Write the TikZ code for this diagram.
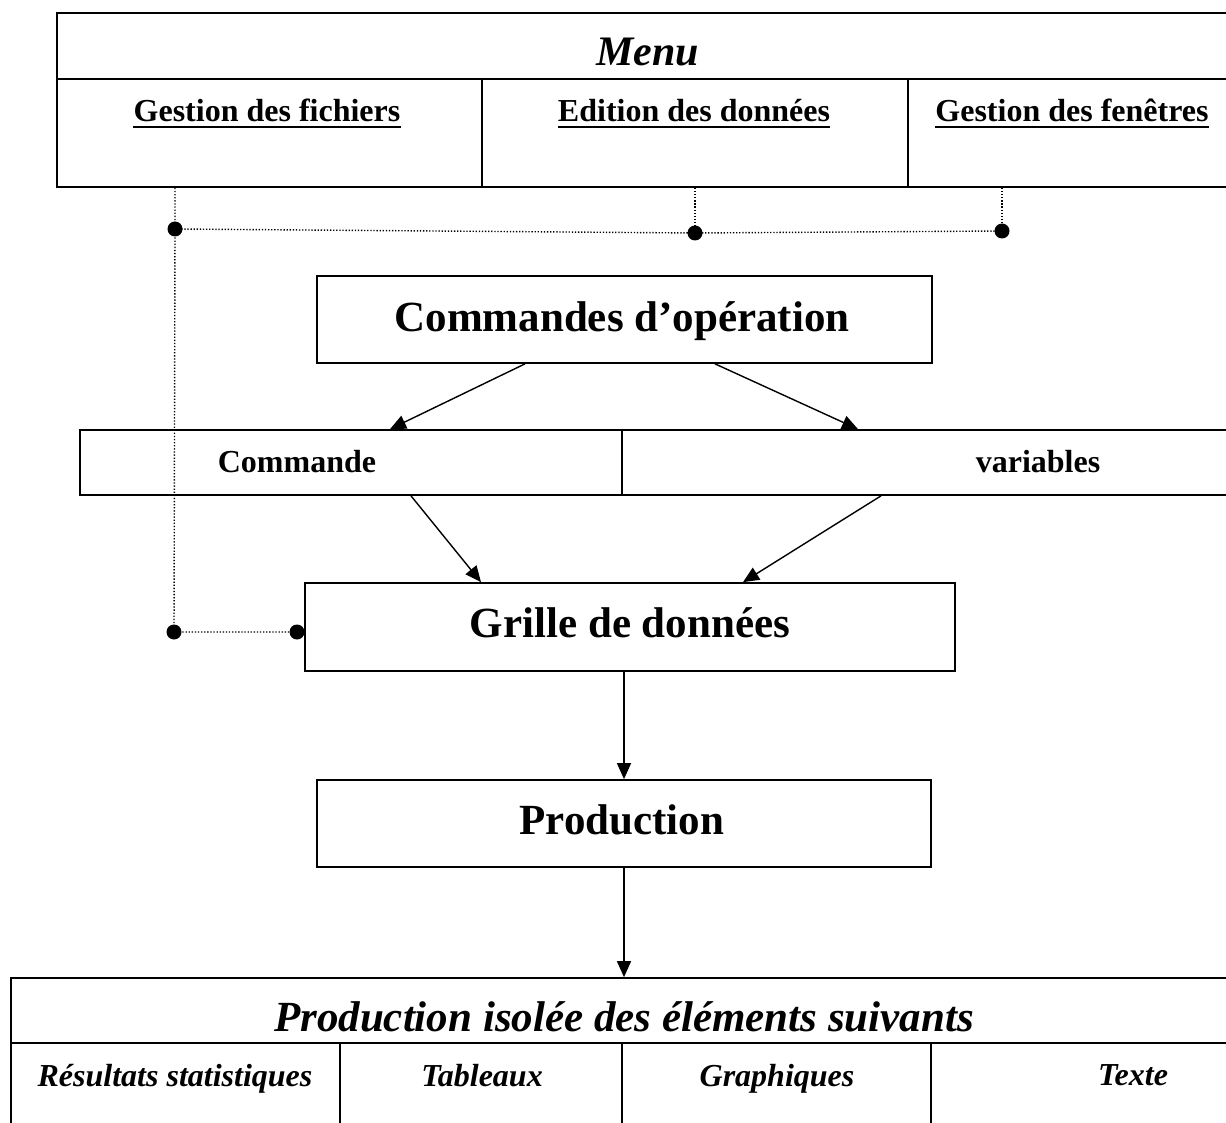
\documentclass[tikz,border=0pt]{standalone}
\usepackage{fontspec}
\setmainfont{Liberation Serif}
\usetikzlibrary{arrows.meta,fit}
\begin{document}
\begin{tikzpicture}[x=1pt,y=-1pt,
  box/.style={draw, line width=1.7pt, rectangle, inner sep=0pt, fit={#1}},
  txt/.style={inner sep=0pt, anchor=base},
  bigb/.style={txt, font=\bfseries\fontsize{43}{50}\selectfont},
  bigi/.style={txt, font=\bfseries\itshape\fontsize{43}{50}\selectfont},
  midb/.style={txt, font=\bfseries\fontsize{32}{38}\selectfont},
  midi/.style={txt, font=\bfseries\itshape\fontsize{32}{38}\selectfont},
  arr/.style={line width=1.4pt, -{Triangle[length=16pt,width=14pt]}},
  dotline/.style={line width=1.4pt, dash pattern=on 1.3pt off 1.8pt, black},
  blob/.style={circle, fill=black, inner sep=0pt, minimum size=15pt},
  uline/.style={line width=2.6pt}
]
\clip (0,0) rectangle (1226,1123);
% Menu block
\node[box={(57,13)(1300,79)}] (menu) {};
\node[box={(57,79)(482,187)}] (fich) {};
\node[box={(482,79)(908,187)}] (donn) {};
\node[box={(908,79)(1300,187)}] (fen) {};
\node[bigi, font=\bfseries\itshape\fontsize{42}{48}\selectfont] (menut) at (648,66) {Menu};
\node[midb] (ficht) at (267,122) {Gestion des fichiers};
\node[midb] (donnt) at (694,122) {Edition des données};
\node[midb] (fent) at (1072,122) {Gestion des fenêtres};
\foreach \t in {ficht,donnt,fent}
  \draw[uline] ([yshift=-5pt]\t.base west) -- ([yshift=-5pt]\t.base east);
% dots
\node[blob] (d1) at (175,229) {};
\node[blob] (d2) at (695,233) {};
\node[blob] (d3) at (1002,231) {};
\node[blob] (d4) at (174,632) {};
% main boxes
\node[box={(317,276)(932,363)}] (cmdop) {};
\node[bigb] at (622,331) {Commandes d’opération};
\node[box={(80,430)(622,495)}] (cmd) {};
\node[box={(622,430)(1300,495)}] (var) {};
\node[midb] at (297,472) {Commande};
\node[midb] at (1038,472) {variables};
\node[box={(305,583)(955,671)}] (grille) {};
\node[bigb] at (630,637) {Grille de données};
\node[blob] (d5) at (297,632) {};
\node[box={(317,780)(931,867)}] (prod) {};
\node[bigb] at (622,834) {Production};
\node[box={(11,978)(1300,1043)}] (iso) {};
\node[bigi] at (624,1031) {Production isolée des éléments suivants};
\node[box={(11,1043)(340,1200)}] (res) {};
\node[box={(340,1043)(622,1200)}] (tab) {};
\node[box={(622,1043)(931,1200)}] (gra) {};
\node[box={(931,1043)(1300,1200)}] (tex) {};
\node[midi] at (175,1086) {Résultats statistiques};
\node[midi] at (482,1086) {Tableaux};
\node[midi] at (777,1086) {Graphiques};
\node[midi] at (1133,1085) {Texte};
% dotted connectors
\draw[dotline] (d1 |- fich.south) -- (d1.center) -- (d4.center) -- (d5.center);
\draw[dotline] (d1.center) -- (d2.center) -- (d3.center);
\draw[dotline] (d2 |- donn.south) -- (d2.center);
\draw[dotline] (d3 |- fen.south) -- (d3.center);
% arrows
\draw[arr] ([xshift=-99.5pt]cmdop.south) -- ([xshift=39pt]cmd.north);
\draw[arr] ([xshift=90.5pt]cmdop.south) -- ([xshift=-103pt]var.north);
\draw[arr] ([xshift=60pt]cmd.south) -- ([xshift=-149pt]grille.north);
\draw[arr] ([xshift=-80pt]var.south) -- ([xshift=113pt]grille.north);
\draw[arr] (prod.north |- grille.south) -- (prod.north);
\draw[arr] (prod.south) -- (prod.south |- iso.north);
\end{tikzpicture}
\end{document}
